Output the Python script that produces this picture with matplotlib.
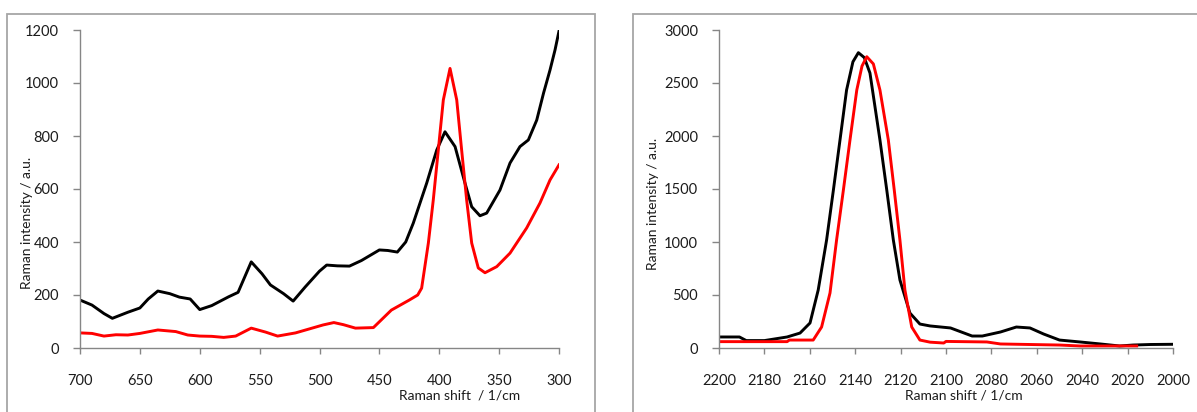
import matplotlib
matplotlib.use("Agg")
import matplotlib.pyplot as plt
from matplotlib.patches import Rectangle

# Low-wavenumber region (700-300 1/cm)
low_shift_black = [700, 690, 680, 673, 660, 650, 643, 635, 625, 617, 608, 600, 590, 576, 568,
                   557, 548, 541, 530, 522, 512, 500, 494, 485, 475, 465, 450, 443, 435,
                   428, 421.7, 410.5, 402.1, 395.2, 386.8, 378.5, 372.9, 366, 360.4, 349.3,
                   340.9, 332.6, 325.6, 318.6, 312.9, 307.5, 303.3, 300]
low_int_black = [181, 162, 130, 112, 135, 151, 185, 215, 205, 192, 185, 145, 160, 193, 210,
                 325, 280, 238, 205, 177, 230, 290, 313, 310, 309, 330, 370, 368, 362,
                 400, 471, 622, 747, 816, 760, 622, 533, 499, 509, 596,
                 698, 760, 785, 860, 962, 1049, 1125, 1196]

low_shift_red = [700, 690, 680, 670, 660, 650, 635, 620, 610, 600, 590, 580, 570, 557, 545,
                 535, 520, 497, 488, 480, 470, 455, 440, 425, 418, 414.7, 409.1, 405,
                 400.8, 396.6, 391, 385.4, 381.3, 377.1, 372.9, 367.4, 361.8, 352, 340.9,
                 327, 315.9, 307.5, 300]
low_int_red = [57, 55, 45, 50, 49, 55, 68, 62, 49, 45, 44, 40, 45, 75, 60,
               45, 57, 87, 96, 88, 75, 77, 143, 181, 200, 226, 396, 558,
               747, 936, 1055, 936, 747, 558, 396, 302, 284, 307, 358,
               453, 547, 634, 691]

# C-N stretching region (2200-2000 1/cm)
high_shift_black = [2200, 2191, 2188, 2180, 2170, 2164.3, 2159.9, 2156.3, 2152.6, 2149.6,
                    2146.7, 2143.8, 2141, 2138.6, 2136, 2133.5, 2129.1, 2126.1, 2123.2,
                    2120.3, 2115.9, 2111.5, 2107, 2098, 2088.5, 2084, 2076, 2069, 2063,
                    2057, 2050, 2041, 2032, 2023.5, 2017.6, 2010, 2000]
high_int_black = [104, 104, 70, 70, 104, 141, 236, 547, 1019, 1491,
                  1962, 2434, 2700, 2786, 2740, 2594, 1962, 1491, 1019,
                  642, 330, 226, 208, 189, 113, 113, 151, 198, 189,
                  132, 75, 57, 38, 19, 28, 33, 35]

high_shift_red = [2200, 2170, 2169, 2158.5, 2154.8, 2151.1, 2148.2, 2145.2, 2142.3, 2139.3,
                  2137, 2134.9, 2132, 2129.1, 2125.4, 2122.8, 2120.3, 2118.1, 2115.1,
                  2111.5, 2107, 2101, 2100, 2082, 2076, 2050, 2041, 2016]
high_int_red = [60, 60, 75, 75, 198, 519, 1019, 1491, 1962, 2434,
                2660, 2748, 2680, 2434, 1962, 1491, 1019, 547, 198,
                75, 55, 47, 62, 57, 38, 28, 19, 19]

low_ticks = [700, 650, 600, 550, 500, 450, 400, 350, 300]
low_yticks = [0, 200, 400, 600, 800, 1000, 1200]
high_ticks = [2200, 2180, 2160, 2140, 2120, 2100, 2080, 2060, 2040, 2020, 2000]
high_yticks = [0, 500, 1000, 1500, 2000, 2500, 3000]

W, H = 1197, 412
plt.rcParams['font.family'] = ['Lato', 'DejaVu Sans']
fig = plt.figure(figsize=(W / 100, H / 100), dpi=100)

SPINE = '#868686'
TXT = '#1c1c1c'
LW = 2.1


def px_rect(x0, y0, x1, y1):
    return [x0 / W, 1 - y1 / H, (x1 - x0) / W, (y1 - y0) / H]


def style(ax):
    for s in ('top', 'right'):
        ax.spines[s].set_visible(False)
    for s in ('left', 'bottom'):
        ax.spines[s].set_color(SPINE)
        ax.spines[s].set_linewidth(1.0)
    ax.tick_params(axis='both', colors=SPINE, labelcolor=TXT, labelsize=10.5,
                   width=1.0, direction='out')
    ax.tick_params(axis='x', length=4, pad=15)
    ax.tick_params(axis='y', length=5, pad=10)
    ax.patch.set_alpha(0)


# chart-area frames
for (x0, y0, x1, y1) in [(7, 14, 595, 430), (633, 14, 1210, 430)]:
    fig.patches.append(Rectangle((x0 / W, 1 - y1 / H), (x1 - x0) / W, (y1 - y0) / H,
                                 transform=fig.transFigure, fill=False,
                                 edgecolor='#A6A6A6', linewidth=1.3, clip_on=False))

ax1 = fig.add_axes(px_rect(80, 30, 559, 348))
ax1.plot(low_shift_black, low_int_black, color='black', lw=LW, solid_joinstyle='round')
ax1.plot(low_shift_red, low_int_red, color='#FF0000', lw=LW, solid_joinstyle='round')
ax1.set_xlim(700, 300)
ax1.set_ylim(0, 1200)
ax1.set_xticks(low_ticks)
ax1.set_yticks(low_yticks)
style(ax1)

ax2 = fig.add_axes(px_rect(719, 30, 1173, 348))
ax2.plot(high_shift_black, high_int_black, color='black', lw=LW, solid_joinstyle='round')
ax2.plot(high_shift_red, high_int_red, color='#FF0000', lw=LW, solid_joinstyle='round')
ax2.set_xlim(2200, 2000)
ax2.set_ylim(0, 3000)
ax2.set_xticks(high_ticks)
ax2.set_yticks(high_yticks)
style(ax2)

lab = dict(fontsize=10, color=TXT, ha='center', va='center')
fig.text(460 / W, 1 - 396 / H, 'Raman shift  / 1/cm', **lab)
fig.text(964 / W, 1 - 396 / H, 'Raman shift / 1/cm', **lab)
fig.text(27 / W, 1 - 223 / H, 'Raman intensity / a.u.', rotation=90, **lab)
fig.text(653 / W, 1 - 204 / H, 'Raman intensity / a.u.', rotation=90, **lab)

fig.savefig('out.png', dpi=100)
